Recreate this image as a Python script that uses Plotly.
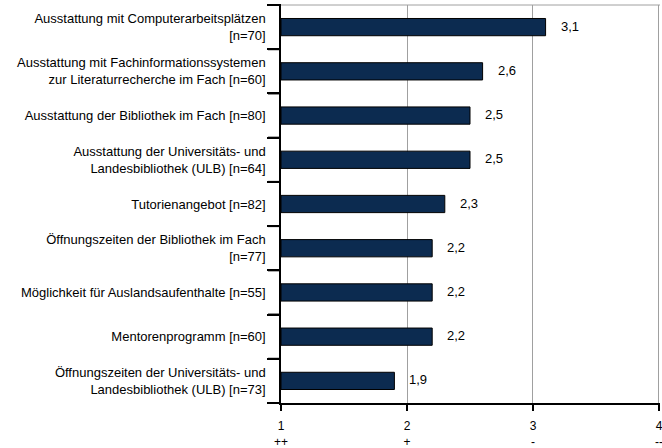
import plotly.graph_objects as go

categories = [
    "Ausstattung mit Computerarbeitsplätzen<br>[n=70]",
    "Ausstattung mit Fachinformationssystemen<br>zur Literaturrecherche im Fach [n=60]",
    "Ausstattung der Bibliothek im Fach [n=80]",
    "Ausstattung der Universitäts- und<br>Landesbibliothek (ULB) [n=64]",
    "Tutorienangebot [n=82]",
    "Öffnungszeiten der Bibliothek im Fach<br>[n=77]",
    "Möglichkeit für Auslandsaufenthalte [n=55]",
    "Mentorenprogramm [n=60]",
    "Öffnungszeiten der Universitäts- und<br>Landesbibliothek (ULB) [n=73]",
]
values = [3.1, 2.6, 2.5, 2.5, 2.3, 2.2, 2.2, 2.2, 1.9]
x_ticks = [1, 2, 3, 4]
x_tick_labels = ["1<br>++", "2<br>+", "3<br>-", "4<br>--"]

FONT = "Liberation Sans, Arial, sans-serif"

n = len(categories)
positions = list(range(n))
boundaries = [p - 0.5 for p in positions] + [positions[-1] + 0.5]
yrange = [positions[-1] + 0.5, -0.5]

fig = go.Figure()
fig.add_trace(go.Bar(
    x=[v - 1 for v in values],
    base=1,
    y=positions,
    orientation="h",
    width=0.39,
    marker=dict(color="#0c2b50", line=dict(color="#000000", width=1)),
    hoverinfo="skip",
))
fig.add_trace(go.Scatter(
    x=[values[0]], y=[positions[0]], yaxis="y2", mode="markers",
    marker=dict(opacity=0), hoverinfo="skip", showlegend=False,
))

for p, v in zip(positions, values):
    fig.add_annotation(
        x=v, y=p, text=f"{v:.1f}".replace(".", ","),
        showarrow=False, xanchor="left", xshift=13, yshift=1,
        font=dict(family=FONT, size=13, color="#000000"),
    )

for b in boundaries:
    yp = 1 - (b + 0.5) / n
    fig.add_shape(type="line", xref="paper", xsizemode="pixel", xanchor=0,
                  x0=-13, x1=0, yref="paper", y0=yp, y1=yp,
                  line=dict(color="#000000", width=2), layer="above")

fig.add_shape(type="line", xref="paper", yref="paper", x0=0, x1=1, y0=1, y1=1,
              line=dict(color="#a0a0a0", width=1), layer="below")

fig.update_layout(
    width=662, height=448,
    margin=dict(l=281, r=2, t=5, b=45),
    paper_bgcolor="white", plot_bgcolor="white",
    showlegend=False,
    font=dict(family=FONT, size=12, color="#000000"),
    xaxis=dict(
        range=[1, 4.008], tickvals=x_ticks, ticktext=x_tick_labels,
        showgrid=True, gridcolor="#a0a0a0", gridwidth=1,
        showline=True, linecolor="#000000", linewidth=1.5,
        ticks="outside", ticklen=6, tickcolor="#000000", tickwidth=1.5,
        zeroline=False, automargin=False, ticklabeloverflow="allow",
        ticklabelstandoff=5,
        tickfont=dict(family=FONT, size=12),
    ),
    yaxis=dict(
        range=yrange,
        tickmode="array", tickvals=positions, ticktext=categories,
        ticks="", ticklabelstandoff=11,
        showgrid=False, zeroline=False, automargin=False,
        showline=True, linecolor="#000000", linewidth=1.5,
        tickfont=dict(family=FONT, size=13, color="#000000"),
    ),
    yaxis2=dict(
        overlaying="y", side="left", anchor="x", range=yrange,
        tickmode="array", tickvals=boundaries, showticklabels=False,
        ticks="outside", ticklen=13, tickwidth=2, tickcolor="#000000",
        showgrid=False, zeroline=False, showline=False, automargin=False,
    ),
)

fig.write_html("out.html", config={"displayModeBar": False},
               post_script="document.body.style.margin='0';document.body.style.padding='0';")
